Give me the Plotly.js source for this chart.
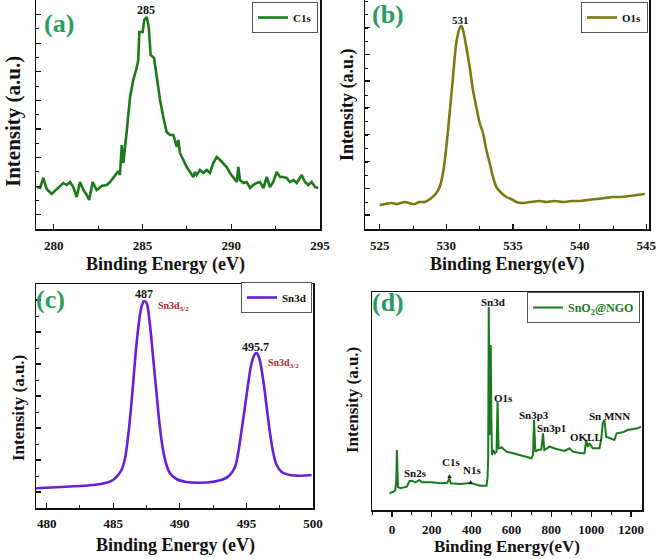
<!DOCTYPE html>
<html>
<head>
<meta charset="utf-8">
<script src="https://cdn.plot.ly/plotly-3.0.1.min.js"></script>
<style>
  html, body { margin: 0; padding: 0; background: #fff; }
  #chart { width: 658px; height: 559px; }
</style>
</head>
<body>
<div id="chart"></div>
<script>
// XPS spectra: C1s, O1s, Sn3d and survey of SnO2@NGO (4 panels)

// ── Data (intensity in arbitrary units) ───────────────────────────────────
const c1sE = [279.04, 279.23, 279.41, 279.6, 279.88, 280.17, 280.54, 280.73, 280.92, 281.1,
  281.29, 281.48, 281.67, 281.86, 282.0, 282.19, 282.42, 282.7, 282.98, 283.17,
  283.45, 283.64, 283.73, 283.83, 283.92, 284.01, 284.1, 284.3, 284.48, 284.67,
  284.76, 284.82, 285.01, 285.1, 285.24, 285.35, 285.46, 285.65, 285.8, 285.99,
  286.17, 286.36, 286.55, 286.74, 286.93, 287.02, 287.11, 287.3, 287.49, 287.68,
  287.86, 287.96, 288.05, 288.24, 288.43, 288.62, 288.8, 288.99, 289.18, 289.37,
  289.55, 289.74, 289.93, 290.12, 290.31, 290.4, 290.49, 290.68, 290.87, 291.06,
  291.24, 291.43, 291.62, 291.81, 292.0, 292.18, 292.37, 292.56, 292.75, 292.93,
  293.12, 293.31, 293.5, 293.69, 293.97, 294.15, 294.34, 294.53, 294.72, 294.9];
const c1sI = [42, 41, 51, 40, 35, 40, 46, 44, 47, 42,
  32, 47, 39, 34, 29, 47, 39, 43, 44, 47,
  54, 58, 54, 84, 66, 79, 96, 132, 149, 161,
  169, 197, 197, 209, 212, 202, 174, 171, 152, 129,
  112, 97, 94, 94, 82, 89, 76, 69, 62, 57,
  52, 57, 54, 59, 56, 59, 56, 66, 72, 69,
  66, 62, 56, 52, 47, 62, 49, 46, 47, 41,
  44, 46, 47, 41, 52, 42, 47, 57, 52, 52,
  51, 47, 49, 46, 54, 47, 44, 47, 42, 41];

const o1sE = [525.0, 525.4, 525.88, 526.3, 526.88, 527.2, 527.63, 528.0, 528.38, 528.88,
  529.25, 529.5, 529.75, 530.0, 530.25, 530.5, 530.75, 531.0, 531.13, 531.25,
  531.5, 531.75, 532.0, 532.25, 532.5, 532.75, 533.0, 533.25, 533.5, 533.75,
  534.13, 534.5, 535.0, 535.25, 535.7, 536.25, 537.0, 537.5, 538.1, 538.75,
  539.4, 540.0, 540.6, 541.25, 541.9, 542.5, 543.1, 543.75, 544.3, 544.88];
const o1sI = [24, 25, 26, 25, 27, 26, 25, 27, 27, 31,
  36, 42, 56, 82, 116, 152, 186, 201, 203, 199,
  182, 162, 139, 122, 106, 96, 79, 66, 52, 42,
  36, 32, 29, 27, 26, 27, 28, 27, 28, 27,
  28, 28, 29, 30, 31, 32, 32, 33, 34, 35];

const sn3dE = [479.15, 481.48, 483.48, 484.49, 484.99, 485.36, 485.62, 485.86, 486.11, 486.37,
  486.62, 486.86, 487.12, 487.32, 487.5, 487.74, 487.99, 488.25, 488.5, 488.74,
  489.0, 489.25, 489.75, 490.5, 491.5, 492.5, 493.26, 493.76, 494.14, 494.38,
  494.64, 494.89, 495.14, 495.39, 495.64, 495.77, 495.96, 496.26, 496.52, 496.77,
  497.02, 497.27, 497.65, 498.27, 499.02, 499.9];
const sn3dI = [19.7, 21.3, 23, 25.3, 28, 33, 38, 48, 71, 105,
  145, 178, 201, 207, 205, 185, 151, 115, 81, 58,
  43, 35, 29, 26, 25.3, 26.3, 28.7, 33, 41, 55,
  78, 101, 125, 145, 154, 155, 150, 128, 101, 75,
  55, 43, 36, 33, 32.3, 33];

const surveyE = [-12, 8, 17, 22, 25, 30, 42, 58, 75, 88,
  100, 117, 138, 150, 200, 242, 278, 288, 295, 342,
  397, 442, 475, 480, 483, 486, 489, 491, 494, 496,
  499, 502, 508, 517, 525, 530, 535, 541.5, 550, 575,
  608, 641.5, 675, 700, 708, 713, 720, 733, 750, 758,
  765, 791.5, 825, 866.5, 891.5, 908, 950, 966.5, 975, 983,
  991.5, 1008, 1041.5, 1050, 1058, 1066.5, 1075, 1091.5, 1116.5, 1128,
  1158, 1183, 1208, 1233, 1250];
const surveyI = [16.7, 18.3, 20, 30, 60, 23, 21.7, 22.7, 23.3, 29,
  29.3, 27.7, 30, 27.7, 27.7, 26.7, 27.3, 31.7, 26.7, 26,
  27, 24.3, 24.3, 33, 50, 203, 110, 75, 110, 165,
  90, 55, 60, 56.7, 58.3, 108, 61.7, 61.7, 62.7, 58.3,
  56.7, 55, 53.3, 51.7, 55, 90, 58.3, 60, 60.7, 76.7,
  60, 63.3, 61, 59, 61.7, 58.3, 56.7, 56.7, 70, 63.3,
  66.7, 61.7, 61.7, 70, 86.7, 90, 73.3, 71.7, 70, 76.7,
  77.7, 80, 80.7, 81.7, 83.3];

// ── Styling ───────────────────────────────────────────────────────────────
const SERIF = '"Liberation Serif", "Times New Roman", Times, serif';
const W = 658, H = 559;
const px = v => v / W;
const py = v => 1 - v / H;
const GREEN = '#1b7a1b';
const LABEL_GREEN = '#2a9d5c';
const TICK_FONT = { family: SERIF, size: 13, color: '#111', weight: 'bold' };
const LEG_FONT = { family: SERIF, size: 11, color: '#111', weight: 'bold' };

function xAxis(domain, range, tick0, dtick, minorDtick, anchor, ticks, standoff) {
  return {
    domain, range, anchor, tick0, dtick,
    showline: true, linecolor: '#111', linewidth: 1.5, mirror: true,
    ticks, ticklen: 5, tickwidth: 1.2, tickcolor: '#111',
    minor: { ticks, ticklen: 3, dtick: minorDtick, tickcolor: '#111', tickwidth: 1 },
    showgrid: false, zeroline: false, tickfont: TICK_FONT,
    ticklabelstandoff: standoff
  };
}

function yAxis(domain, range, tick0, dtick, anchor, ticks) {
  return {
    domain, range, anchor, tick0, dtick: dtick * 2,
    showline: true, linecolor: '#111', linewidth: 1.5, mirror: true,
    ticks, ticklen: 5, tickwidth: 1.2, tickcolor: '#111',
    minor: { ticks, ticklen: 3, dtick, tickcolor: '#111', tickwidth: 1 },
    showgrid: false, zeroline: false, showticklabels: false
  };
}

function legendBox(x, y) {
  return {
    x, y, xanchor: 'right', yanchor: 'top',
    bgcolor: '#fff', bordercolor: '#555', borderwidth: 1,
    font: LEG_FONT, itemwidth: 30, tracegroupgap: 0
  };
}

// ── Traces ────────────────────────────────────────────────────────────────
const traces = [
  { x: c1sE, y: c1sI, type: 'scatter', mode: 'lines', name: 'C1s',
    xaxis: 'x', yaxis: 'y', legend: 'legend', showlegend: true,
    line: { color: GREEN, width: 2.6 } },
  { x: o1sE, y: o1sI, type: 'scatter', mode: 'lines', name: 'O1s',
    xaxis: 'x2', yaxis: 'y2', legend: 'legend2', showlegend: true,
    line: { color: '#7b7b12', width: 2.6, shape: 'spline' } },
  { x: sn3dE, y: sn3dI, type: 'scatter', mode: 'lines', name: 'Sn3d',
    xaxis: 'x3', yaxis: 'y3', legend: 'legend3', showlegend: true,
    line: { color: '#6a1fd6', width: 2.6, shape: 'spline' } },
  { x: surveyE, y: surveyI, type: 'scatter', mode: 'lines', name: 'SnO<sub>2</sub>@NGO',
    xaxis: 'x4', yaxis: 'y4', legend: 'legend4', showlegend: true,
    line: { color: GREEN, width: 2 } }
];

// ── Annotations ───────────────────────────────────────────────────────────
function paperText(text, x, y, size, extra) {
  return Object.assign({
    text, x: px(x), y: py(y), xref: 'paper', yref: 'paper',
    showarrow: false, xanchor: 'center', yanchor: 'middle',
    font: { family: SERIF, size, color: '#111', weight: 'bold' }
  }, extra || {});
}

function panelLetter(text, x, y) {
  return paperText(text, x, y, 26, { font: { family: SERIF, size: 26, color: LABEL_GREEN, weight: 'bold' } });
}

function peakText(text, x, y, axis, size, color) {
  return {
    text, x, y, xref: 'x' + axis, yref: 'y' + axis,
    showarrow: false, xanchor: 'center', yanchor: 'middle',
    font: { family: SERIF, size, color: color || '#111', weight: 'bold' }
  };
}

const annotations = [
  panelLetter('(a)', 59, 23),
  panelLetter('(b)', 388, 14),
  panelLetter('(c)', 50, 299),
  panelLetter('(d)', 388, 302),
  // axis titles
  paperText('Binding Energy (eV)', 165, 264, 18),
  paperText('Intensity (a.u.)', 13, 122, 21, { textangle: -90 }),
  paperText('Binding Energy(eV)', 507, 264, 18),
  paperText('Intensity (a.u.)', 347, 105, 18, { textangle: -90 }),
  paperText('Binding Energy (eV)', 175, 545, 18),
  paperText('Intensity (a.u.)', 18, 408, 17, { textangle: -90 }),
  paperText('Binding Energy(eV)', 507, 546, 17),
  paperText('Intensity (a.u.)', 352, 400, 17, { textangle: -90 }),
  // peak labels
  peakText('285', 285.2, 219, '', 12),
  peakText('531', 531.1, 209, '2', 11),
  peakText('487', 487.3, 214, '3', 12),
  peakText('495.7', 495.7, 161, '3', 12),
  peakText('Sn3d<sub>5/2</sub>', 489.5, 202, '3', 10, '#b3262b'),
  peakText('Sn3d<sub>3/2</sub>', 497.8, 145, '3', 10, '#b3262b'),
  peakText('Sn3d', 508, 208, '4', 11),
  peakText('O1s', 560, 112, '4', 11),
  peakText('Sn3p3', 712, 95, '4', 11),
  peakText('Sn3p1', 800, 82, '4', 11),
  peakText('OKLL', 972, 73, '4', 11),
  peakText('Sn MNN', 1090, 94, '4', 11),
  peakText('Sn2s', 117, 37, '4', 11),
  peakText('C1s', 295, 48, '4', 11),
  peakText('N1s', 400, 40, '4', 11),
  peakText('\u25B2', 290, 34, '4', 7),
  peakText('\u25B2', 395, 28, '4', 7)
];

const layout = {
  width: W, height: H,
  margin: { l: 0, r: 0, t: 0, b: 0 },
  paper_bgcolor: '#fff', plot_bgcolor: '#fff',
  font: { family: SERIF, color: '#111' },
  showlegend: true,
  xaxis:  xAxis([px(36), px(320)], [279, 295], 280, 5, 2.5, 'y', 'inside', 4),
  yaxis:  yAxis([py(229), py(0)], [0, 229], 14.3, 14.3, 'x', 'inside'),
  xaxis2: xAxis([px(365), px(649)], [523.9, 545.2], 525, 5, 2.5, 'y2', 'inside', 4),
  yaxis2: yAxis([py(229), py(0)], [0, 229], 14, 13.4, 'x2', 'inside'),
  xaxis3: xAxis([px(36), px(313)], [479.2, 500], 480, 5, 2.5, 'y3', 'inside', 3),
  yaxis3: yAxis([py(508), py(284)], [0, 224], 16, 16, 'x3', 'inside'),
  xaxis4: xAxis([px(372), px(642)], [-100, 1255], 0, 200, 100, 'y4', 'outside', 2),
  yaxis4: yAxis([py(510), py(292)], [0, 218], 0, 50, 'x4', ''),
  legend:  legendBox(px(318), py(2)),
  legend2: legendBox(px(648), py(2)),
  legend3: legendBox(px(312), py(282)),
  legend4: Object.assign(legendBox(px(640), py(292)),
    { font: { family: SERIF, size: 12, color: GREEN, weight: 'bold' } }),
  annotations
};

Plotly.newPlot('chart', traces, layout, { displayModeBar: false, staticPlot: true });
</script>
</body>
</html>
